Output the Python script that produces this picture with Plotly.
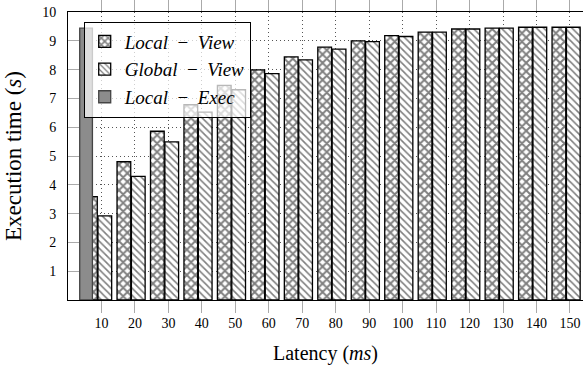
import plotly.graph_objects as go

latency = [10, 20, 30, 40, 50, 60, 70, 80, 90, 100, 110, 120, 130, 140, 150]
local_view = [3.59, 4.80, 5.86, 6.78, 7.45, 7.99, 8.44, 8.78, 9.00, 9.18, 9.30, 9.41, 9.44, 9.47, 9.47]
global_view = [2.92, 4.29, 5.49, 6.52, 7.30, 7.86, 8.34, 8.71, 8.97, 9.15, 9.30, 9.41, 9.44, 9.47, 9.47]
exec_x = [10]
local_exec = [9.44]
y_ticks = [1, 2, 3, 4, 5, 6, 7, 8, 9, 10]

FONT = "Liberation Serif"
SP = "\u2002"

fig = go.Figure()
fig.add_trace(go.Bar(
    x=latency, y=local_view, name=f"<i>Local</i>{SP}−{SP}<i>View</i>",
    offset=-5.35, width=4.1, legendgroup="a",
    marker=dict(color="white", line=dict(color="black", width=1.3),
                pattern=dict(shape="x", fgcolor="black", bgcolor="white", size=6, solidity=0.55)),
))
fig.add_trace(go.Bar(
    x=latency, y=global_view, name=f"<i>Global</i>{SP}−{SP}<i>View</i>",
    offset=-1.05, width=4.1, legendgroup="b",
    marker=dict(color="white", line=dict(color="black", width=1.3),
                pattern=dict(shape="\\", fgcolor="black", bgcolor="white", size=5, solidity=0.32)),
))
fig.add_trace(go.Bar(
    x=exec_x, y=local_exec, name=f"<i>Local</i>{SP}−{SP}<i>Exec</i>",
    offset=-6.5, width=3.8, legendgroup="c",
    marker=dict(color="#8c8c8c", line=dict(color="#444444", width=1.3)),
))

fig.update_layout(
    width=583, height=367,
    margin=dict(l=68, r=0, t=12, b=67),
    barmode="overlay",
    plot_bgcolor="white", paper_bgcolor="white",
    font=dict(family=FONT, color="black", size=14),
    legend=dict(
        x=0.0305, y=0.967, xanchor="left", yanchor="top",
        bgcolor="rgba(255,255,255,0.72)", bordercolor="black", borderwidth=1,
        font=dict(family=FONT, size=19),
        traceorder="grouped", tracegroupgap=0,
        itemwidth=30,
    ),
    showlegend=True,
)
fig.update_xaxes(
    range=[0, 153.9], tickvals=latency, ticktext=[str(v) for v in latency],
    automargin=False,
    showline=True, linecolor="black", linewidth=1, mirror="allticks",
    ticks="outside", ticklen=12, tickcolor="#aaaaaa", tickwidth=1,
    ticklabelstandoff=-2,
    showgrid=True, gridcolor="#555555", griddash="1px,3px", gridwidth=1,
    tickfont=dict(family=FONT, size=14),
    title=dict(text="Latency (<i>ms</i>)", font=dict(family=FONT, size=20), standoff=16),
    zeroline=False,
)
fig.update_yaxes(
    range=[0, 10], tickvals=y_ticks, ticktext=[str(v) for v in y_ticks],
    automargin=False,
    showline=True, linecolor="black", linewidth=1, mirror=True,
    ticks="inside", ticklen=11, tickcolor="#aaaaaa", tickwidth=1,
    ticklabelstandoff=8,
    showgrid=True, gridcolor="#555555", griddash="1px,3px", gridwidth=1,
    tickfont=dict(family=FONT, size=14),
    title=dict(text="Execution time (<i>s</i>)", font=dict(family=FONT, size=23), standoff=14),
    zeroline=False,
)

fig.write_html("out.html", config={"displayModeBar": False},
               post_script="document.body.style.margin='0';document.body.style.overflow='hidden';")
